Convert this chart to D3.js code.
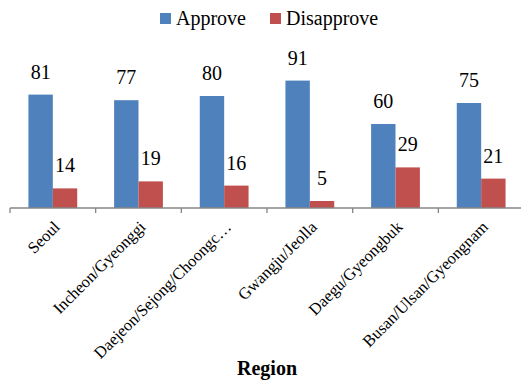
<!DOCTYPE html>
<html>
<head>
<meta charset="utf-8">
<script src="https://cdn.jsdelivr.net/npm/d3@7"></script>
<style>
  body { margin: 0; background: #fff; }
  svg { font-family: "Liberation Serif", "Times New Roman", serif; }
</style>
</head>
<body>
<div id="chart"></div>
<script>
const regions = ["Seoul", "Incheon/Gyeonggi", "Daejeon/Sejong/Choongc\u2026", "Gwangju/Jeolla", "Daegu/Gyeongbuk", "Busan/Ulsan/Gyeongnam"];
const seriesNames = ["Approve", "Disapprove"];
const approve = [81, 77, 80, 91, 60, 75];
const disapprove = [14, 19, 16, 5, 29, 21];
const colors = ["#4F81BD", "#C0504D"];

const width = 521, height = 381;
const baseY = 208, topY = 68;

const svg = d3.select("#chart").append("svg")
    .attr("width", width)
    .attr("height", height);

const x = d3.scaleBand().domain(regions).range([10, 524]).paddingInner(0).paddingOuter(0);
const x1 = d3.scaleBand().domain(seriesNames).range([0, x.bandwidth()]).paddingInner(0).paddingOuter(0.756);
const y = d3.scaleLinear().domain([0, 100]).range([baseY, topY]);

const rows = regions.map((r, i) => ({ region: r, values: [approve[i], disapprove[i]] }));

const groups = svg.append("g")
    .selectAll("g")
    .data(rows)
    .enter()
    .append("g")
    .attr("transform", d => `translate(${x(d.region)},0)`);

groups.selectAll("rect")
    .data(d => d.values.map((v, j) => ({ name: seriesNames[j], value: v, j })))
    .enter()
    .append("rect")
    .attr("x", d => x1(d.name))
    .attr("y", d => y(d.value))
    .attr("width", x1.bandwidth())
    .attr("height", d => baseY - y(d.value))
    .attr("fill", d => colors[d.j]);

groups.selectAll("text")
    .data(d => d.values.map((v, j) => ({ name: seriesNames[j], value: v })))
    .enter()
    .append("text")
    .attr("x", d => x1(d.name) + x1.bandwidth() / 2)
    .attr("y", d => y(d.value) - 16)
    .attr("text-anchor", "middle")
    .style("font-size", "20px")
    .style("fill", "#000")
    .text(d => d.value);

// axis line and boundary ticks
const axis = svg.append("g");
axis.append("line")
    .attr("x1", 10).attr("x2", 524)
    .attr("y1", baseY).attr("y2", baseY)
    .attr("stroke", "#868686").attr("stroke-width", 1.3);
axis.selectAll("line.tick")
    .data(regions)
    .enter()
    .append("line")
    .attr("class", "tick")
    .attr("x1", d => x(d)).attr("x2", d => x(d))
    .attr("y1", baseY).attr("y2", baseY + 5)
    .attr("stroke", "#868686").attr("stroke-width", 1.3);

// rotated category labels
axis.selectAll("text")
    .data(regions)
    .enter()
    .append("text")
    .attr("transform", d => `translate(${x(d) + x.bandwidth() / 2 + 8},${baseY + 20}) rotate(-45)`)
    .attr("text-anchor", "end")
    .style("font-size", "16.5px")
    .style("fill", "#000")
    .text(d => d);

// axis title
svg.append("text")
    .attr("x", 267)
    .attr("y", 375)
    .attr("text-anchor", "middle")
    .style("font-size", "20px")
    .style("font-weight", "bold")
    .text("Region");

// legend
const legendX = [160, 270];
const legend = svg.append("g")
    .selectAll("g")
    .data(seriesNames)
    .enter()
    .append("g")
    .attr("transform", (d, i) => `translate(${legendX[i]},13)`);
legend.append("rect")
    .attr("width", 11).attr("height", 11)
    .attr("fill", (d, i) => colors[i]);
legend.append("text")
    .attr("x", 16)
    .attr("y", 12)
    .style("font-size", "20px")
    .text(d => d);
</script>
</body>
</html>
